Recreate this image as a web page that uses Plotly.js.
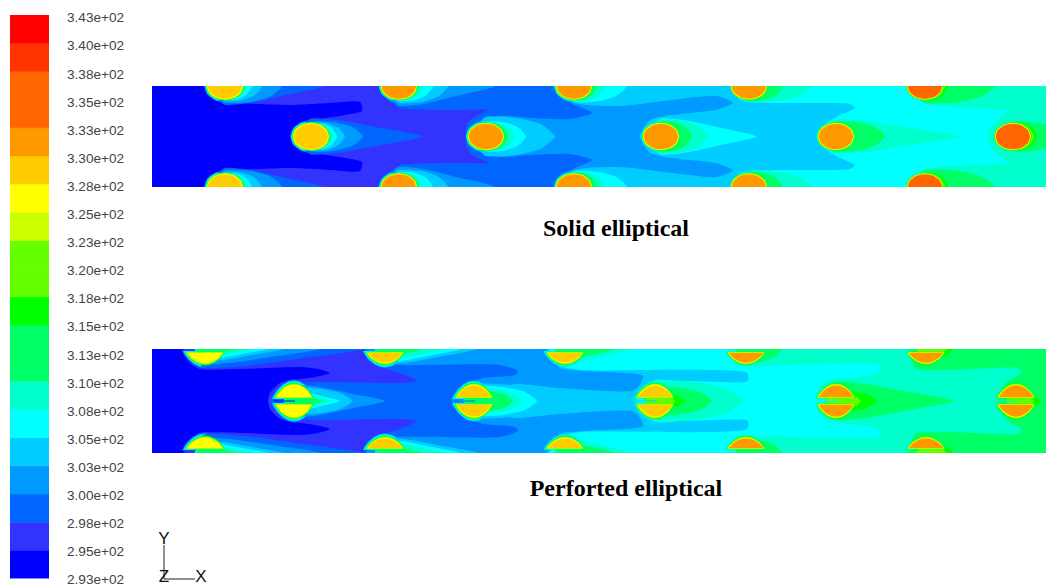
<!DOCTYPE html>
<html><head><meta charset="utf-8">
<script src="https://cdn.plot.ly/plotly-3.0.1.min.js"></script>
<style>html,body{margin:0;padding:0;background:#fff}#c{width:1046px;height:587px}</style></head>
<body><div id="c"></div><script>
const W=1046,H=587;
// colour levels (low to high)
const C={b0:'#0000FF',b1:'#3333FF',b2:'#0066FF',b3:'#0099FF',b4:'#00CCFF',c:'#00FFFF',t:'#00FFCC',g1:'#00FF66',g2:'#00FF00',g3:'#66FF00',y2:'#CCFF00',y:'#FFFF00',o1:'#FFCC00',o2:'#FF9900',o3:'#FF6600',r1:'#FF3300',r2:'#FF0000'};
const levelOrder=['b0','b1','b2','b3','b4','c','t','g1','g2','g3','y2','y','o1','o2','o3','r1','r2'];
// colour bar
const tickValues=[293,295.5,298,300.5,303,305.5,308,310.5,313,315.5,318,320.5,323,325.5,328,330.5,333,335.5,338,340.5,343];
const tickLabels=['2.93e+02','2.95e+02','2.98e+02','3.00e+02','3.03e+02','3.05e+02','3.08e+02','3.10e+02','3.13e+02','3.15e+02','3.18e+02','3.20e+02','3.23e+02','3.25e+02','3.28e+02','3.30e+02','3.33e+02','3.35e+02','3.38e+02','3.40e+02','3.43e+02'];
const bandLevels=['b0','b1','b2','b3','b4','c','t','g1','g1','g2','g3','g3','y2','y','o1','o2','o3','o3','r1','r2'];

// Panel A (solid): temperature-zone outlines, upper half; mirrored about the channel axis
const aCentre=136.5,aTop=86,aBottom=187;
const aBase='t';
const aCX=[152,907,923,973,1008,1000,990,988],aCY=[86,86,103,108,111,117,127,136.5];
const aB4X=[152,733,740,850,855,840,827,818],aB4Y=[86,86,100,104,108,115,123,136.5];
const aB3X=[152,555,575,620,717,733,715,680,650,640],aB3Y=[86,86,103,106,96,103,110,114,120,136.5];
const aB2X=[152,553,560,575,592,570,530,497,487,487],aB2Y=[86,86,97,105,113,119,118,116,122,136.5];
const aB1X=[152,379,388,400,460,488,478,470,466,466],aB1Y=[86,86,100,108,110,110,115,120,128,136.5];
const aB0X=[152,205,215,240,290,330,360,362,345,320,305,292,291],aB0Y=[86,86,100,103,105,103,102,111,115,119,122,130,136.5];
// Panel A bodies: x centre, row, fill level, surrounding level
const aBodyX=[225,311,399,486,574,661,749,836,925,1013];
const aBodyRow=['w','m','w','m','w','m','w','m','w','m'];
const aBodyFill=['o1','o1','o2','o2','o2','o2','o2','o2','o3','o3'];
const aBodyBg=['b0','b0','b1','b1','b2','b3','c','b4','c','t'];
const aWakes=[
 [['b2',98,19],['b3',57,17],['b4',37,15],['c',27,14],['t',22,13.5],['g1',20,13]],
 [['b2',112,18],['b3',52,15],['b4',34,14],['c',26,13.5],['t',22,13],['g1',20,13]],
 [['b3',96,20],['b4',49,17],['c',34,15],['t',24,14],['g1',20,13.5]],
 [['b4',69,19.5],['c',40,15],['t',29,14],['g1',22,13.5]],
 [['c',53,16],['t',31,15],['g1',23,14]],
 [['c',96,18],['t',47,17],['g1',31,15]],
 [['t',63,16],['g1',34,15]],
 [['t',124,17],['g1',49,15]],
 [['g1',70,17],['g2',23,14],['g3',20,13.5]],
 [['g1',48,15],['g2',24,14],['g3',21,13.5]]
];

// Panel B (perforated)
const bCentre=401,bTop=349,bBottom=453;
const bBase='g1';
const bTX=[152,908,915,1017,1022,1007,997,997],bTY=[349,349,368,368,372,382,395,401];
const bCX=[152,727,745,773,878,882,873,827,817,817],bCY=[349,349,362,365,365,370,375,381,392,401];
const bB4X=[152,548,560,583,747,748,683,650,640,636],bB4Y=[349,349,366,370,373,381,381,384,392,401];
const bB3X=[152,545,560,583,643,635,560,510,510],bB3Y=[349,349,368,371,376,390,388,385,401];
const bB2X=[152,365,372,400,500,518,515,483,470,455,452],bB2Y=[349,349,362,365,365,371,375,378,383,393,401];
const bB1X=[152,363,367,385,405,417,397,317,300,278,270],bB1Y=[349,349,360,368,375,381,383,382,383,388,401];
const bB0X=[152,183,190,200,240,300,318,330,315,295,280,270,268],bB0Y=[349,349,363,369,369,367,369,373,377,380,383,393,401];
const bBodyX=[205,294,385,474,565,655,746,836,926,1016];
const bBodyRow=['w','m','w','m','w','m','w','m','w','m'];
const bBodyFill=['y','y','o1','o1','o1','o1','o2','o2','o2','o2'];
const bBodyBg=['b0','b0','b1','b2','b3','b3','b4','c','t','t'];
const bSlit=['b0','b0','b2','b2','b4','b4','c','c','t','t'];
const bWakes=[
 [['b2',158,19],['b3',115,15],['b4',78,12],['c',62,10],['t',48,8],['g1',33,6]],
 [['b3',91,16],['b4',58,13],['c',46,10],['t',38,8],['g1',30,6]],
 [['b4',92,15],['c',75,13],['t',58,11],['g1',37,8]],
 [['b4',76,17],['c',63,15],['t',48,12],['g1',39,10]],
 [['t',67,14],['g1',50,10]],
 [['c',140,21],['t',88,20],['g1',57,14],['g2',30,8],['g3',20,7]],
 [['t',74,17],['g1',36,13]],
 [['g1',117,19],['g2',41,10],['g3',25,8]],
 [['g2',27,9],['g3',20,7]],
 [['g2',25,8],['g3',18,7]]
];

// unit outlines
const ellipseU=[1,.87,.5,0,-.5,-.87,-1,-.87,-.5,0,.5,.87];
const ellipseV=[0,.5,.87,1,.87,.5,0,-.5,-.87,-1,-.87,-.5];
const domeU=[-1,-.92,-.75,-.5,-.25,0,.25,.5,.75,.92,1];
const domeV=[0,.2,.5,.78,.95,1,.95,.78,.5,.2,0];

const traces=[];
function poly(xs,ys,level,ax,ay,smooth){
  traces.push({type:'scatter',mode:'lines',x:xs,y:ys,xaxis:ax,yaxis:ay,fill:'toself',fillcolor:C[level],
    line:{width:0,color:C[level],shape:smooth?'spline':'linear',smoothing:.6},hoverinfo:'skip',showlegend:false});
}
function zone(xs,ys,cy,bot,level,ax,ay){
  const xx=xs.concat(xs.slice(0,-1).reverse());
  const yy=ys.concat(ys.slice(0,-1).reverse().map(v=>2*cy-v));
  poly(xx,yy,level,ax,ay,true);
}
function wake(cx,cy,rx,w,ax,ay){
  const [lv,dx,h]=w;
  const spear=dx>4.5*h;
  const tt=spear?[0,.25,.6,1]:[0,.45,.8,1];
  const rr=spear?[1,.9,.5,0]:[1,.95,.62,0];
  const upX=[cx-.6*rx,cx-.3*rx].concat(tt.map(t=>cx+t*dx));
  const upY=[cy,cy-.8*h].concat(rr.map(r=>cy-r*h));
  const xx=upX.concat(upX.slice(0,-1).reverse());
  const yy=upY.concat(upY.slice(0,-1).reverse().map(v=>2*cy-v));
  poly(xx,yy,lv,ax,ay,true);
}
function ringKs(bg,fill,step){
  const iB=levelOrder.indexOf(bg),iF=levelOrder.indexOf(fill),iY=levelOrder.indexOf('y');
  const out=[];
  for(let i=iB+1;i<=iF;i++){
    let k=i<=iY?(iY-i)*step+.8:.8*(iF-i)/Math.max(1,iF-iY);
    out.push([levelOrder[i],k,i]);
  }
  return out;
}
function ellipse(cx,cy,rx,ry,k,lv,ax,ay){
  poly(ellipseU.map(u=>cx+u*(rx+k)),ellipseV.map(v=>cy+v*(ry+k)),lv,ax,ay,true);
}
function dome(cx,flat,dir,rx,ry,k,lv,ax,ay){
  poly(domeU.map(u=>cx+u*(rx+k)),domeV.map(v=>flat+dir*(v*(ry+1.4*k)-.4*k)),lv,ax,ay,false);
}
const COOL=levelOrder.indexOf('t');

function panelA(){
  const ax='x2',ay='y2';
  poly([152,1046,1046,152],[aTop,aTop,aBottom,aBottom],aBase,ax,ay,false);
  [[aCX,aCY,'c'],[aB4X,aB4Y,'b4'],[aB3X,aB3Y,'b3'],[aB2X,aB2Y,'b2'],[aB1X,aB1Y,'b1'],[aB0X,aB0Y,'b0']].forEach(z=>zone(z[0],z[1],aCentre,aBottom,z[2],ax,ay));
  const rx=17,ry=12.5;
  const ctrs=r=>r==='m'?[aCentre]:[aTop,aBottom];
  aBodyX.forEach((cx,i)=>ctrs(aBodyRow[i]).forEach(cy=>ringKs(aBodyBg[i],aBodyFill[i],.3).forEach(r=>{if(r[2]<=COOL)ellipse(cx,cy,rx,ry,r[1],r[0],ax,ay);})));
  aBodyX.forEach((cx,i)=>ctrs(aBodyRow[i]).forEach(cy=>aWakes[i].forEach(w=>wake(cx,cy,rx,w,ax,ay))));
  aBodyX.forEach((cx,i)=>ctrs(aBodyRow[i]).forEach(cy=>ringKs(aBodyBg[i],aBodyFill[i],.3).forEach(r=>{if(r[2]>COOL)ellipse(cx,cy,rx,ry,r[1],r[0],ax,ay);})));
}
function panelB(){
  const ax='x3',ay='y3';
  poly([152,1046,1046,152],[bTop,bTop,bBottom,bBottom],bBase,ax,ay,false);
  [[bTX,bTY,'t'],[bCX,bCY,'c'],[bB4X,bB4Y,'b4'],[bB3X,bB3Y,'b3'],[bB2X,bB2Y,'b2'],[bB1X,bB1Y,'b1'],[bB0X,bB0Y,'b0']].forEach(z=>zone(z[0],z[1],bCentre,bBottom,z[2],ax,ay));
  const rx=17;
  const domes=r=>r==='m'?[[397,-1,11.5],[405,1,11.5]]:[[353,1,9.5],[448,-1,9.5]];
  const ctr=r=>r==='m'?[bCentre]:[bTop,bBottom];
  const rings=(i,test)=>domes(bBodyRow[i]).forEach(d=>ringKs(bBodyBg[i],bBodyFill[i],.55).forEach(r=>{if(test(r[2]))dome(bBodyX[i],d[0],d[1],rx,d[2],r[1],r[0],ax,ay);}));
  bBodyX.forEach((cx,i)=>rings(i,v=>v<=COOL));
  bBodyX.forEach((cx,i)=>ctr(bBodyRow[i]).forEach(cy=>bWakes[i].forEach(w=>wake(cx,cy,rx,w,ax,ay))));
  bBodyX.forEach((cx,i)=>rings(i,v=>v>COOL));
  bBodyX.forEach((cx,i)=>{
    if(bBodyRow[i]==='m')traces.push({type:'scatter',mode:'lines',x:[cx-rx-3,cx+1],y:[bCentre,bCentre],xaxis:ax,yaxis:ay,line:{width:1,color:C[bSlit[i]]},hoverinfo:'skip',showlegend:false});
  });
}
panelA();panelB();

// colour bar drawn on a value axis
traces.push({type:'bar',x:bandLevels.map(()=>0),base:tickValues.slice(0,-1),y:tickValues.slice(1).map((v,i)=>v-tickValues[i]),width:1,
  marker:{color:bandLevels.map(l=>C[l]),line:{width:.6,color:bandLevels.map(l=>C[l])}},xaxis:'x4',yaxis:'y4',hoverinfo:'skip',showlegend:false});
traces.push({type:'scatter',mode:'text',x:tickValues.map(()=>67),y:tickValues,text:tickLabels,textposition:'middle right',cliponaxis:false,
  textfont:{family:'Liberation Sans, Arial, sans-serif',size:13.6,color:'#444'},xaxis:'x',yaxis:'y5',hoverinfo:'skip',showlegend:false});

// coordinate triad
traces.push({type:'scatter',mode:'lines',x:[164,164,195],y:[545,579,579],xaxis:'x',yaxis:'y',line:{width:1,color:'#222'},hoverinfo:'skip',showlegend:false});
traces.push({type:'scatter',mode:'text',x:[164,164,201],y:[540,578,578],text:['Y','Z','X'],textposition:'middle center',cliponaxis:false,
  textfont:{family:'Liberation Sans, Arial, sans-serif',size:17,color:'#111'},xaxis:'x',yaxis:'y',hoverinfo:'skip',showlegend:false});
// panel captions
traces.push({type:'scatter',mode:'text',x:[616,626],y:[230,490],text:['<b>Solid elliptical</b>','<b>Perforted elliptical</b>'],textposition:'middle center',
  textfont:{family:'Liberation Serif, Times New Roman, serif',size:24,color:'#000'},xaxis:'x',yaxis:'y',hoverinfo:'skip',showlegend:false});

const hidden=o=>Object.assign({visible:false,fixedrange:true},o);
const dy=(t,b)=>[1-b/H,1-t/H];
const layout={width:W,height:H,margin:{l:0,r:0,t:0,b:0},paper_bgcolor:'#fff',plot_bgcolor:'rgba(0,0,0,0)',showlegend:false,barmode:'overlay',
  xaxis:hidden({range:[0,W],domain:[0,1]}),yaxis:hidden({range:[H,0],domain:[0,1]}),
  xaxis2:hidden({range:[152,W],domain:[152/W,1],anchor:'y2'}),yaxis2:hidden({range:[aBottom,aTop],domain:dy(aTop,aBottom),anchor:'x2'}),
  xaxis3:hidden({range:[152,W],domain:[152/W,1],anchor:'y3'}),yaxis3:hidden({range:[bBottom,bTop],domain:dy(bTop,bBottom),anchor:'x3'}),
  xaxis4:hidden({range:[-.5,.5],domain:[10/W,49/W],anchor:'y4'}),yaxis4:hidden({range:[293,343],domain:dy(15,578.5),anchor:'x4'}),
  yaxis5:hidden({range:[293,343],domain:dy(19,581),anchor:'x'})};
Plotly.newPlot('c',traces,layout,{staticPlot:true,displayModeBar:false});
</script></body></html>
